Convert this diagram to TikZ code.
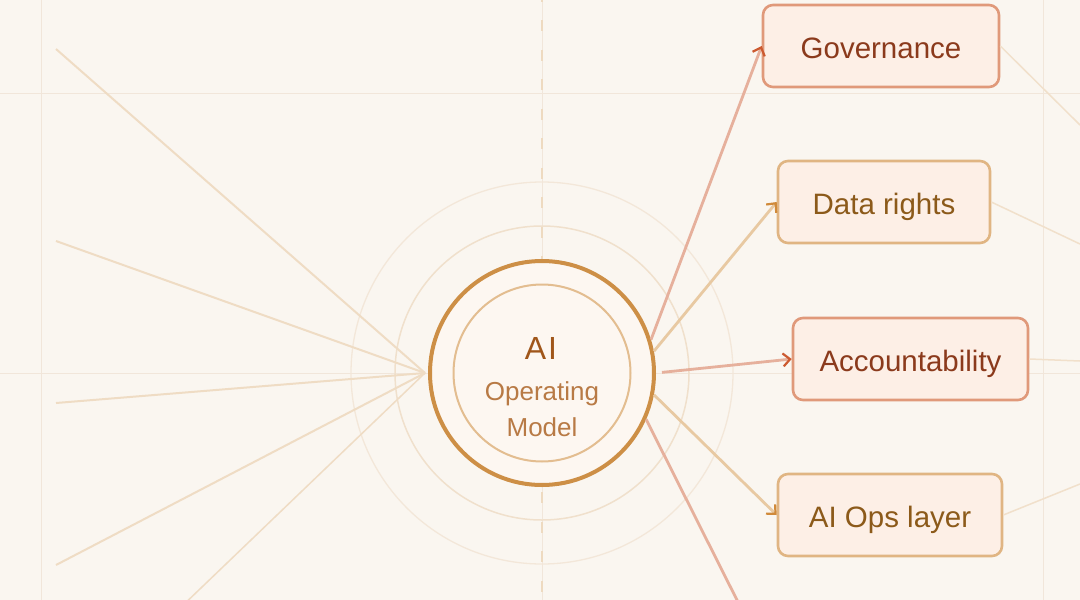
\documentclass[tikz,border=0pt]{standalone}
\usepackage{fontspec}
\setmainfont{Liberation Sans}
\usetikzlibrary{arrows.meta}
\definecolor{bg}{HTML}{FAF6F0}
\definecolor{gridc}{HTML}{F1E6DA}
\definecolor{redborder}{HTML}{E0997A}
\definecolor{redtext}{HTML}{8B3A1C}
\definecolor{redline}{HTML}{E6B09C}
\definecolor{redhead}{HTML}{CC5A30}
\definecolor{tanborder}{HTML}{E0B583}
\definecolor{tantext}{HTML}{8C5A1A}
\definecolor{tanline}{HTML}{E8C9A2}
\definecolor{tanhead}{HTML}{D08A3A}
\definecolor{boxfill}{HTML}{FDEFE6}
\definecolor{ringouter}{HTML}{CD8F46}
\definecolor{ringinner}{HTML}{E3BD90}
\definecolor{corefill}{HTML}{FDF7F1}
\definecolor{faintA}{HTML}{F0E0CC}
\definecolor{faintB}{HTML}{F3E7D9}
\definecolor{fanc}{HTML}{EFDCC4}
\definecolor{dashc}{HTML}{EEDAC0}
\definecolor{aitext}{HTML}{A0561A}
\definecolor{subtext}{HTML}{B87A45}
\definecolor{outline}{HTML}{F1E0CB}
\tikzset{
  x=1pt,y=-1pt,
  gridline/.style={draw=gridc,line width=1pt},
  fanline/.style={draw=fanc,line width=2pt},
  outlinkline/.style={draw=outline,line width=1.5pt},
  card/.style={draw,rounded corners=10pt,line width=2.6pt,fill=boxfill,
    font=\fontsize{29.5}{34}\selectfont,inner sep=0pt,anchor=center,
    text height=30pt,text depth=6pt},
  redcard/.style={card,draw=redborder,text=redtext},
  tancard/.style={card,draw=tanborder,text=tantext},
  redarrow/.style={draw=redline,line width=2.8pt,
    -{Straight Barb[length=7pt,width=13pt,line width=2.2pt,color=redhead]}},
  tanarrow/.style={draw=tanline,line width=2.8pt,
    -{Straight Barb[length=7pt,width=13pt,line width=2.2pt,color=tanhead]}},
}
\begin{document}
\begin{tikzpicture}
\useasboundingbox (0,0) rectangle (1080,600);
\fill[bg] (0,0) rectangle (1080,600);
% grid
\draw[gridline] (41,0) -- (41,600);
\draw[gridline] (542,0) -- (542,600);
\draw[gridline] (1043,0) -- (1043,600);
\draw[gridline] (0,93) -- (1080,93);
\draw[gridline] (0,373) -- (1080,373);
% faint rings
\draw[faintB,line width=1.3pt] (542,373) circle[radius=191];
\draw[faintA,line width=1.5pt] (542,373) circle[radius=147];
% dashed axis
\draw[dashc,line width=2.5pt,dash pattern=on 11pt off 18.5pt,dash phase=9.5pt] (542,0) -- (542,600);
% fan
\coordinate (hub) at (425,373);
\coordinate (f1) at (56,49);
\coordinate (f2) at (56,241);
\coordinate (f3) at (56,403);
\coordinate (f4) at (56,565);
\coordinate (f5) at (177,611);
\draw[fanline] (f1) -- (hub);
\draw[fanline] (f2) -- (hub);
\draw[fanline] (f3) -- (hub);
\draw[fanline] (f4) -- (hub);
\draw[fanline,line width=1.5pt] (f5) -- (hub);
% boxes
\node[redcard,minimum width=236pt,minimum height=82pt] (gov) at (881,46) {Governance};
\node[tancard,minimum width=212pt,minimum height=82pt] (data) at (884,202) {Data rights};
\node[redcard,minimum width=235pt,minimum height=82pt] (acc) at (910.5,359) {Accountability};
\node[tancard,minimum width=224pt,minimum height=82pt] (ops) at (890,515) {AI Ops layer};
% core
\node[circle,draw=ringouter,line width=4pt,fill=corefill,minimum size=224pt,inner sep=0pt] (core) at (542,373) {};
\node[circle,draw=ringinner,line width=2pt,minimum size=177pt,inner sep=0pt] (inner) at (542,373) {};
\node[anchor=base,text=aitext,font=\fontsize{32}{36}\selectfont] (t1) at (541,359) {A\kern2pt I};
\node[anchor=base,text=subtext,font=\fontsize{26}{30}\selectfont] (t2) at (542,400) {Operating};
\node[anchor=base,text=subtext,font=\fontsize{26}{30}\selectfont] (t3) at (542,436) {Model};
% arrows
\coordinate (off5) at (742,610);
\draw[redarrow] (core.17) -- (gov.west);
\draw[tanarrow] (core.11) -- (data.west);
\draw[redarrow,shorten <=6pt] (core.east) -- (acc.west);
\draw[tanarrow] (core.-11) -- (ops.west);
\draw[draw=redline,line width=2.8pt] (core.-24) -- (off5);
% outgoing links
\coordinate (o1) at (1080,125);
\coordinate (o2) at (1080,244);
\coordinate (o3) at (1080,361);
\coordinate (o4) at (1080,484);
\draw[outlinkline] (gov.east) -- (o1);
\draw[outlinkline] (data.east) -- (o2);
\draw[outlinkline] (acc.east) -- (o3);
\draw[outlinkline] (ops.east) -- (o4);
\end{tikzpicture}
\end{document}
